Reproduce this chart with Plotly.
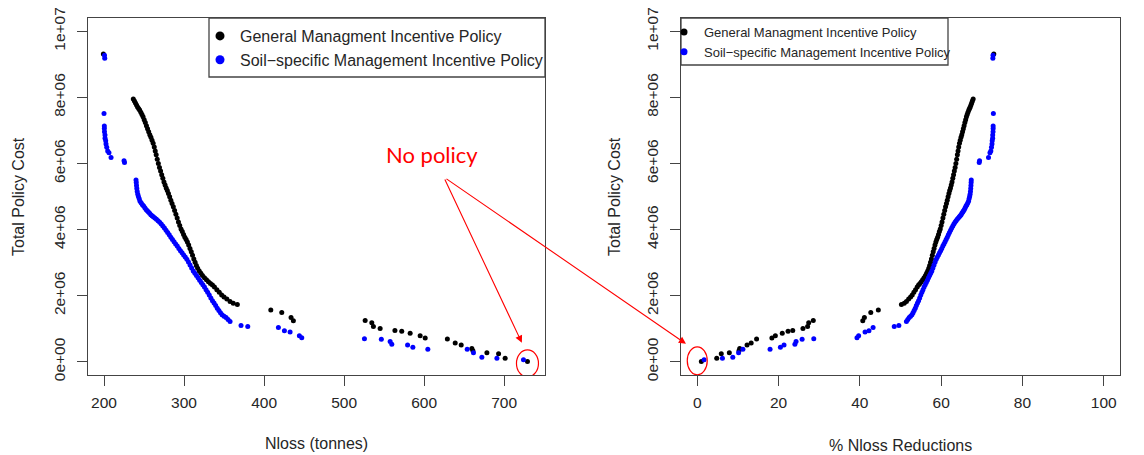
import numpy as np
import plotly.graph_objects as go

# ---------------- data ----------------
general_nloss = [199.2, 236.6, 238.0, 239.3, 240.6, 241.9, 243.2, 244.5, 246.0, 247.4, 248.8,
                 250.2, 251.6, 253.0, 254.4, 255.8, 257.2, 258.6, 260.0, 261.4, 262.8, 264.0,
                 265.2, 266.5, 267.9, 269.3, 270.7, 272.1, 273.5, 274.9, 276.3, 277.7, 279.1,
                 280.5, 282.0, 283.5, 285.0, 286.6, 288.2, 289.8, 291.4, 293.0, 294.6, 296.2,
                 297.8, 299.4, 301.0, 302.6, 304.2, 305.8, 307.4, 309.0, 310.6, 312.2, 313.8,
                 315.4, 317.0, 319.0, 321.0, 323.0, 325.5, 328.0, 330.5, 333.0, 335.5, 338.0,
                 341.0, 344.0, 347.0, 350.0, 353.5, 357.5, 361.5, 366.6,
                 408.4, 422.1, 433.7, 436.6, 526.3, 534.6, 536.6, 545.0, 563.5, 572.0, 582.5,
                 595.0, 601.3, 629.0, 638.8, 646.3, 659.6, 660.9, 678.4, 693.0, 701.2, 729.1]
general_cost_m = [9.31, 7.95, 7.89, 7.83, 7.77, 7.71, 7.66, 7.62, 7.55, 7.48, 7.41,
                  7.32, 7.24, 7.14, 7.05, 6.96, 6.87, 6.79, 6.70, 6.61, 6.50, 6.38,
                  6.26, 6.13, 6.00, 5.88, 5.77, 5.66, 5.55, 5.44, 5.35, 5.26, 5.18,
                  5.09, 4.99, 4.89, 4.79, 4.69, 4.58, 4.46, 4.35, 4.23, 4.12, 4.02,
                  3.94, 3.85, 3.77, 3.70, 3.62, 3.53, 3.43, 3.33, 3.22, 3.11, 3.01,
                  2.91, 2.83, 2.75, 2.68, 2.61, 2.54, 2.48, 2.42, 2.37, 2.32, 2.26,
                  2.18, 2.10, 2.02, 1.96, 1.90, 1.82, 1.77, 1.73,
                  1.57, 1.49, 1.34, 1.24, 1.25, 1.18, 1.07, 1.01, 0.95, 0.92, 0.86,
                  0.79, 0.72, 0.69, 0.57, 0.51, 0.40, 0.33, 0.27, 0.24, 0.11, 0.01]

soil_nloss = [200.6, 200.9, 200.0, 200.4, 200.4, 200.6, 201.2, 201.3, 202.1, 202.5, 203.4,
              204.6, 206.2, 208.8, 225.0, 225.6,
              240.0, 240.3, 240.6, 241.0, 241.5, 242.2, 243.0, 244.0, 245.0, 246.5, 248.0,
              249.5, 251.0, 252.5, 254.0, 255.5, 257.0, 258.5, 260.0, 261.6, 263.5, 265.5,
              267.5, 269.5, 271.5, 273.5, 275.5, 277.5, 279.5, 281.5, 283.5, 285.5, 287.5,
              289.5, 291.5, 293.5, 295.5, 297.5, 299.5, 301.5, 303.5, 305.5, 307.5, 309.5,
              311.5, 313.5, 315.5, 317.5, 319.5, 321.5, 323.5, 325.5, 327.5, 329.5, 331.5,
              333.5, 335.5, 337.5, 339.5, 341.5, 343.5, 345.5, 347.5, 350.0, 352.5, 355.0,
              357.5, 371.2, 379.6,
              417.9, 425.4, 432.5, 444.1, 447.1, 525.4, 546.5, 557.5, 559.6, 579.3, 585.9,
              604.6, 653.8, 661.6, 672.1, 690.9, 724.1]
soil_cost_m = [9.27, 9.18, 7.51, 7.13, 7.06, 6.96, 6.86, 6.76, 6.69, 6.59, 6.49,
               6.38, 6.32, 6.18, 6.08, 6.03,
               5.50, 5.42, 5.33, 5.24, 5.15, 5.07, 5.00, 4.93, 4.86, 4.80, 4.75,
               4.71, 4.66, 4.61, 4.57, 4.53, 4.49, 4.45, 4.42, 4.39, 4.35, 4.31,
               4.27, 4.22, 4.17, 4.11, 4.05, 3.98, 3.91, 3.84, 3.77, 3.70, 3.63,
               3.56, 3.50, 3.43, 3.36, 3.30, 3.23, 3.17, 3.10, 3.02, 2.93, 2.84,
               2.75, 2.68, 2.61, 2.54, 2.47, 2.40, 2.33, 2.26, 2.18, 2.10, 2.02,
               1.93, 1.85, 1.78, 1.70, 1.62, 1.55, 1.48, 1.42, 1.38, 1.34, 1.28,
               1.22, 1.10, 1.07,
               1.04, 0.94, 0.90, 0.79, 0.73, 0.70, 0.68, 0.61, 0.53, 0.51, 0.44,
               0.38, 0.38, 0.27, 0.14, 0.11, 0.06]

baseline_nloss = 736.5          # Nloss of the no-policy scenario
no_policy_nloss = 729.1
no_policy_cost_m = 0.01

series_names = ["General Managment Incentive Policy",
                "Soil\u2212specific Management Incentive Policy"]
series_colors = ["#000000", "#0000FF"]

y_tickvals = [0, 2e6, 4e6, 6e6, 8e6, 1e7]
y_ticktext = ["0e+00", "2e+06", "4e+06", "6e+06", "8e+06", "1e+07"]
x1_tickvals = [200, 300, 400, 500, 600, 700]
x2_tickvals = [0, 20, 40, 60, 80, 100]

# ---------------- derived ----------------
gen_n = np.array(general_nloss)
soil_n = np.array(soil_nloss)
gen_c = np.array(general_cost_m) * 1e6
soil_c = np.array(soil_cost_m) * 1e6
gen_pct = (baseline_nloss - gen_n) / baseline_nloss * 100
soil_pct = (baseline_nloss - soil_n) / baseline_nloss * 100

# the page body has an 8px margin: the figure is sized so that it ends at the window edge
OFF = 8
W, H = 1144 - OFF, 455 - OFF
FONT = "Liberation Sans, Arial, sans-serif"
AX = "#444444"
TXT = "#262626"


def px2fx(px):
    return (px - OFF) / W


def px2fy(py):
    return 1 - (py - OFF) / H


fig = go.Figure()

pairs = [(gen_n, gen_c, gen_pct), (soil_n, soil_c, soil_pct)]
for (n, c, p), name, col in zip(pairs, series_names, series_colors):
    fig.add_trace(go.Scatter(x=n, y=c, mode="markers", xaxis="x", yaxis="y",
                             marker=dict(color=col, size=5), showlegend=False, name=name))
    fig.add_trace(go.Scatter(x=p, y=c, mode="markers", xaxis="x2", yaxis="y2",
                             marker=dict(color=col, size=5), showlegend=False, name=name))

# legend-only entries
for name, col in zip(series_names, series_colors):
    fig.add_trace(go.Scatter(x=[None], y=[None], mode="markers", xaxis="x", yaxis="y",
                             marker=dict(color=col, size=9), name=name, legend="legend"))
    fig.add_trace(go.Scatter(x=[None], y=[None], mode="markers", xaxis="x2", yaxis="y2",
                             marker=dict(color=col, size=7), name=name, legend="legend2"))

axis_common = dict(showgrid=False, zeroline=False, showline=True, mirror=True,
                   linecolor=AX, linewidth=1.3, ticks="outside", ticklen=10,
                   tickcolor=AX, tickwidth=1.3, automargin=False,
                   ticklabeloverflow="allow",
                   tickfont=dict(family=FONT, size=15.5, color=TXT))
xaxis_extra = dict(ticklabelstandoff=3)
yaxis_extra = dict(ticklabelstandoff=6, tickangle=-90)

fig.update_layout(
    width=W, height=H,
    margin=dict(l=0, r=0, t=0, b=0),
    paper_bgcolor="white", plot_bgcolor="white",
    xaxis=dict(domain=[px2fx(88), px2fx(545)], range=[180, 751], tickvals=x1_tickvals,
               anchor="y", **axis_common, **xaxis_extra),
    yaxis=dict(domain=[px2fy(375), px2fy(18)], range=[-0.4e6, 10.4e6], tickvals=y_tickvals,
               ticktext=y_ticktext, anchor="x", **axis_common, **yaxis_extra),
    xaxis2=dict(domain=[px2fx(681), px2fx(1120)], range=[-4, 104], tickvals=x2_tickvals,
                anchor="y2", **axis_common, **xaxis_extra),
    yaxis2=dict(domain=[px2fy(375), px2fy(18)], range=[-0.4e6, 10.4e6], tickvals=y_tickvals,
                ticktext=y_ticktext, anchor="x2", **axis_common, **yaxis_extra),
    legend=dict(x=px2fx(200), y=px2fy(19), xanchor="left", yanchor="top",
                bgcolor="rgba(0,0,0,0)", borderwidth=0,
                font=dict(family=FONT, size=16, color=TXT), itemwidth=30,
                tracegroupgap=0),
    legend2=dict(x=px2fx(664), y=px2fy(17), xanchor="left", yanchor="top",
                 bgcolor="rgba(0,0,0,0)", borderwidth=0,
                 font=dict(family=FONT, size=13, color=TXT), itemwidth=30,
                 tracegroupgap=0),
)

# legend frames
fig.add_shape(type="rect", xref="paper", yref="paper", layer="above",
              x0=px2fx(209), x1=px2fx(545), y0=px2fy(77), y1=px2fy(18),
              fillcolor="white", line=dict(color=AX, width=1.3))
fig.add_shape(type="rect", xref="paper", yref="paper", layer="above",
              x0=px2fx(681), x1=px2fx(948), y0=px2fy(65), y1=px2fy(18),
              fillcolor="white", line=dict(color=AX, width=1.3))

# axis titles
title_font = dict(family=FONT, size=16, color=TXT)
for txt, x, y, ang in [("Nloss (tonnes)", 316, 443, 0),
                       ("% Nloss Reductions", 900, 445, 0),
                       ("Total Policy Cost", 19, 197, -90),
                       ("Total Policy Cost", 615, 197, -90)]:
    fig.add_annotation(text=txt, xref="paper", yref="paper", x=px2fx(x), y=px2fy(y),
                       xanchor="center", yanchor="middle", textangle=ang,
                       showarrow=False, font=title_font)

# "No policy" callout
RED = "#FF0000"
fig.add_annotation(text="No policy", xref="x", yref="y", x=609.6, y=6.28e6,
                   xanchor="center", yanchor="middle",
                   showarrow=False, font=dict(family="Lato, sans-serif", size=22, color=RED))
fig.add_annotation(text="", xref="x", yref="y", x=722.1, y=0.574e6,
                   ax=-77.7, ay=-164.7, axref="pixel", ayref="pixel",
                   showarrow=True, arrowhead=2, arrowsize=1.3, arrowwidth=1.1,
                   arrowcolor=RED, standoff=0)
fig.add_annotation(text="", xref="x2", yref="y2", x=-2.78, y=0.544e6,
                   ax=-241, ay=-166, axref="pixel", ayref="pixel",
                   showarrow=True, arrowhead=2, arrowsize=1.3, arrowwidth=1.1,
                   arrowcolor=RED, standoff=0)

fig.add_shape(type="circle", xref="x", yref="y", xsizemode="pixel", ysizemode="pixel",
              xanchor=no_policy_nloss, yanchor=no_policy_cost_m * 1e6 - 0.06e6,
              x0=-11, x1=11, y0=-13.5, y1=13.5, line=dict(color=RED, width=1.2))
fig.add_shape(type="circle", xref="x2", yref="y2", xsizemode="pixel", ysizemode="pixel",
              xanchor=0.0, yanchor=0.03e6,
              x0=-10, x1=10, y0=-14, y1=14, line=dict(color=RED, width=1.2))

fig.write_html("out.html")
